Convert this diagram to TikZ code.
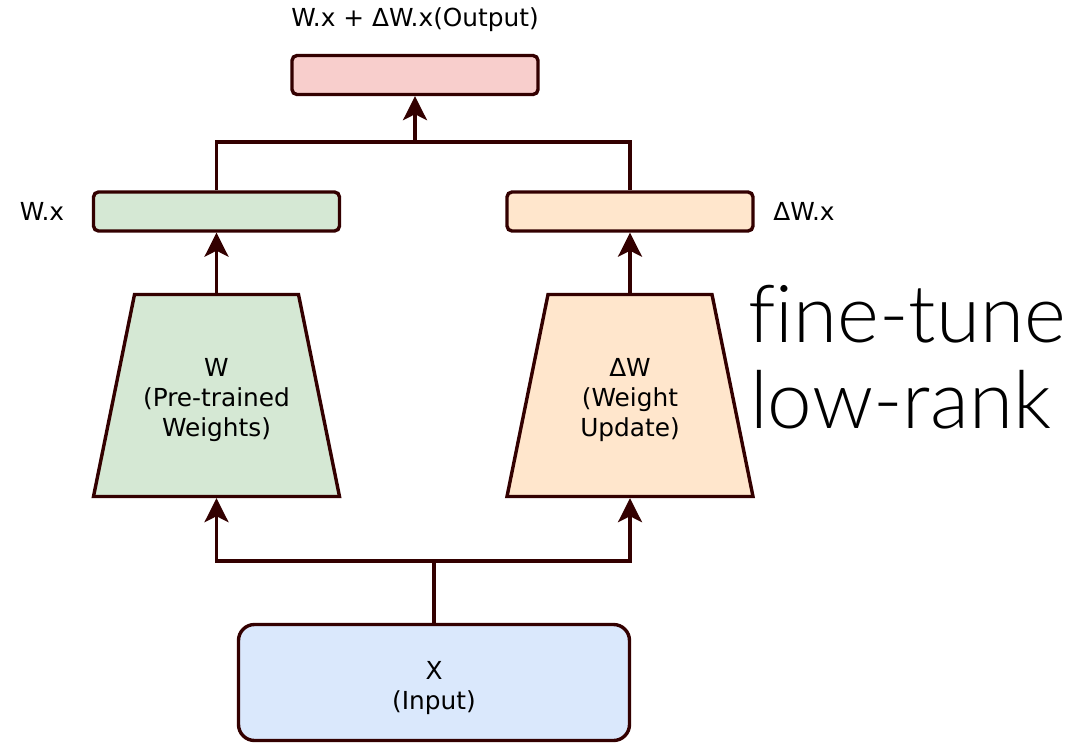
\documentclass[tikz,border=0pt]{standalone}
\usepackage{fontspec}
\usetikzlibrary{arrows.meta}
\newfontfamily\labelfont{DejaVu Sans}
\newfontfamily\bigfont{Lato Light}[Ligatures=NoCommon]
\definecolor{edge}{HTML}{330000}
\definecolor{outfill}{HTML}{F8CECC}
\definecolor{wfill}{HTML}{D5E8D4}
\definecolor{dfill}{HTML}{FFE6CC}
\definecolor{xfill}{HTML}{DAE8FC}
\begin{document}
\begin{tikzpicture}[x=1pt,y=-1pt,
  txt/.style={font=\labelfont\fontsize{24.8}{30}\selectfont, text=black, align=center, inner sep=0pt},
  bar/.style={draw=edge, line width=3.4pt, rounded corners=5pt, minimum width=246pt, minimum height=39pt, inner sep=0pt},
  slab/.style={draw=edge, line width=3.4pt, line join=miter},
  block/.style={minimum width=246pt, minimum height=202pt, inner sep=0pt, outer sep=1.7pt},
  wire/.style={draw=edge, line width=3.4pt},
  flow/.style={wire, -{Stealth[length=24pt,width=24pt,inset=6pt]}}]
\useasboundingbox (0,0) rectangle (1076,744);

% output bar and its caption
\node[bar, fill=outfill] (out) at (415,75) {};
\node[txt] (outlab) at (415,20) {W.x + ΔW.x(Output)};

% intermediate results
\node[bar, fill=wfill] (wx) at (216.5,211.5) {};
\node[bar, fill=dfill] (dx) at (630,211.5) {};
\node[txt] (wxlab) at (42,211) {W.x};
\node[txt] (dxlab) at (804,211) {ΔW.x};

% weight blocks: trapezoids, narrow side up
\path[slab, fill=wfill] (93.5,496.5) -- (134.5,294.5) -- (298.5,294.5) -- (339.5,496.5) -- cycle;
\path[slab, fill=dfill] (507,496.5) -- (548,294.5) -- (712,294.5) -- (753,496.5) -- cycle;
\node[block] (w) at (216.5,395.5) {};
\node[block] (dw) at (630,395.5) {};
\node[txt] (wlab) at (216.5,400) {W\\(Pre-trained\\Weights)};
\node[txt] (dwlab) at (630,400) {ΔW\\(Weight\\Update)};

% input
\node[draw=edge, line width=3.4pt, rounded corners=16pt, fill=xfill, minimum width=391pt,
  minimum height=116pt] (x) at (434,682.5) {};
\node[txt] (xlab) at (434,688) {X\\(Input)};

% side note
\node[font=\bigfont\fontsize{80}{86}\selectfont, anchor=base west, inner sep=0pt] (ft) at (748,342) {fine-tune};
\node[font=\bigfont\fontsize{80}{86}\selectfont, anchor=base west, inner sep=0pt] (lr) at (750,428) {low-rank};

% connectors
\coordinate (jtop) at (415,142);
\coordinate (jbot) at (434,561);
\draw[wire] (wx.north) |- (jtop) -| (dx.north);
\draw[flow] (jtop) -- (out.south);
\draw[flow] (w.north) -- (wx.south);
\draw[flow] (dw.north) -- (dx.south);
\draw[wire] (x.north) -- (jbot);
\draw[flow] (jbot) -| (w.south);
\draw[flow] (jbot) -| (dw.south);
\end{tikzpicture}
\end{document}
